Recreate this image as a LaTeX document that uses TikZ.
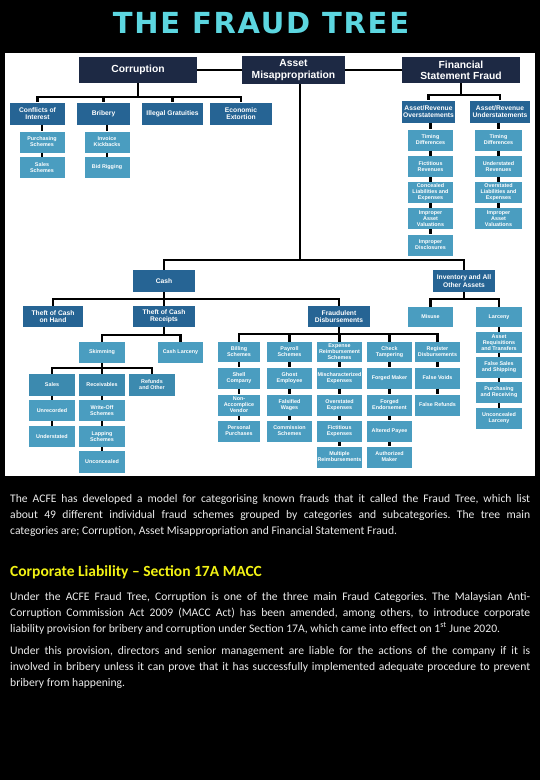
\documentclass[tikz,border=0pt]{standalone}
\usepackage{fontspec}
\setmainfont{Carlito}
\newfontfamily\treefont{Liberation Sans}
\newfontfamily\titlefont[LetterSpace=6]{DejaVu Sans}
\definecolor{ftnavy}{RGB}{29,41,68}
\definecolor{ftblue}{RGB}{38,100,148}
\definecolor{ftsea}{RGB}{60,138,175}
\definecolor{ftteal}{RGB}{74,157,192}
\definecolor{ftsky}{RGB}{92,214,224}
\definecolor{ftyellow}{RGB}{242,242,20}
\definecolor{fttext}{RGB}{236,236,236}
\usepackage{tikz}
\usetikzlibrary{positioning}
\frenchspacing

\begin{document}
\begin{tikzpicture}[x=1pt, y=-1pt,
  topbox/.style={fill=ftnavy, text=white, align=center, inner sep=1pt,
    minimum width=118pt, minimum height=26pt,
    font=\treefont\bfseries\fontsize{10.3}{11.2}\selectfont},
  midbox/.style={fill=ftblue, text=white, align=center, inner sep=1pt,
    minimum height=22pt, font=\treefont\bfseries\fontsize{6.7}{7.3}\selectfont},
  leafbox/.style={fill=ftteal, text=white, align=center, inner sep=0.6pt,
    minimum width=45pt, minimum height=21pt,
    font=\treefont\bfseries\fontsize{5.4}{6}\selectfont},
  link/.style={draw=black, line width=2.2pt},
  bodytext/.style={anchor=north west, inner sep=0pt, text width=520pt,
    align=justify, text=fttext, font=\fontsize{11.6}{16}\selectfont}]

\fill[black] (0,0) rectangle (540,780);
\useasboundingbox (0,0) rectangle (540,780);
\fill[white] (5,53) rectangle (535,476);

\node[text=ftsky, font=\titlefont\bfseries\fontsize{29}{31}\selectfont] (title) at (261,23) {THE FRAUD TREE};

\node[topbox] (corr) at (138,70) {Corruption};
\node[topbox, minimum width=103pt, minimum height=28pt] (asset) at (293.5,70) {Asset\\Misappropriation};
\node[topbox] (fsf) at (461,70) {Financial\\Statement Fraud};

\node[midbox, minimum width=55pt] (coi) at (37.5,113.5) {Conflicts of\\Interest};
\node[midbox, minimum width=53pt] (bribery) at (103.5,113.5) {Bribery};
\node[midbox, minimum width=61pt] (illegal) at (172.5,113.5) {Illegal Gratuities};
\node[midbox, minimum width=62pt] (extort) at (241,113.5) {Economic\\Extortion};

\node[leafbox] (purch) at (42,142) {Purchasing\\Schemes};
\node[leafbox] (salesch) at (42,167.5) {Sales\\Schemes};
\node[leafbox] (kick) at (107,142) {Invoice\\Kickbacks};
\node[leafbox] (bid) at (107,167.5) {Bid Rigging};

\node[midbox, minimum width=53pt] (over) at (428.5,111.5) {Asset/Revenue\\Overstatements};
\node[midbox, minimum width=60pt] (under) at (500,111.5) {Asset/Revenue\\Understatements};

\node[leafbox] (ot1) at (430.5,140) {Timing\\Differences};
\node[leafbox] (ot2) at (430.5,166.5) {Fictitious\\Revenues};
\node[leafbox] (ot3) at (430.5,192.5) {Concealed\\Liabilities and\\Expenses};
\node[leafbox] (ot4) at (430.5,218.5) {Improper\\Asset\\Valuations};
\node[leafbox] (ot5) at (430.5,245) {Improper\\Disclosures};
\node[leafbox, minimum width=47pt] (ut1) at (498.5,140) {Timing\\Differences};
\node[leafbox, minimum width=47pt] (ut2) at (498.5,166.5) {Understated\\Revenues};
\node[leafbox, minimum width=47pt] (ut3) at (498.5,192.5) {Overstated\\Liabilities and\\Expenses};
\node[leafbox, minimum width=47pt] (ut4) at (498.5,218.5) {Improper\\Asset\\Valuations};

\node[midbox, minimum width=62pt] (cash) at (164,281) {Cash};
\node[midbox, minimum width=62pt] (inv) at (464,281) {Inventory and All\\Other Assets};

\node[midbox, minimum width=60pt, minimum height=21pt] (tcoh) at (53,316.5) {Theft of Cash\\on Hand};
\node[midbox, minimum width=62pt, minimum height=21pt] (tcr) at (164,316.5) {Theft of Cash\\Receipts};
\node[midbox, minimum width=62pt, minimum height=21pt] (fd) at (339,316.5) {Fraudulent\\Disbursements};

\node[leafbox, minimum height=20pt] (misuse) at (430.5,317) {Misuse};
\node[leafbox, minimum width=46pt, minimum height=20pt] (larceny) at (499,317) {Larceny};
\node[leafbox, minimum width=46pt] (lar1) at (499,342.5) {Asset\\Requisitions\\and Transfers};
\node[leafbox, minimum width=46pt] (lar2) at (499,367.5) {False Sales\\and Shipping};
\node[leafbox, minimum width=46pt] (lar3) at (499,392.5) {Purchasing\\and Receiving};
\node[leafbox, minimum width=46pt] (lar4) at (499,418.5) {Unconcealed\\Larceny};

\node[leafbox, minimum width=46pt] (skim) at (102,352.5) {Skimming};
\node[leafbox] (cashlar) at (180.5,352.5) {Cash Larceny};

\node[leafbox, fill=ftsea, minimum width=46pt, minimum height=22pt] (sales) at (52,385) {Sales};
\node[leafbox, fill=ftsea, minimum width=46pt, minimum height=22pt] (recv) at (102,385) {Receivables};
\node[leafbox, fill=ftsea, minimum width=46pt, minimum height=22pt] (refund) at (152,385) {Refunds\\and Other};
\node[leafbox, minimum width=46pt] (unrec) at (52,410.5) {Unrecorded};
\node[leafbox, minimum width=46pt] (underst) at (52,436.5) {Understated};
\node[leafbox, minimum width=46pt] (wo) at (102,410.5) {Write-Off\\Schemes};
\node[leafbox, minimum width=46pt] (lap) at (102,436.5) {Lapping\\Schemes};
\node[leafbox, minimum width=46pt, minimum height=22pt] (uncon) at (102,462) {Unconcealed};

\node[leafbox, minimum width=42pt, minimum height=20pt] (bill) at (239,352) {Billing\\Schemes};
\node[leafbox, minimum height=20pt] (pay) at (289.5,352) {Payroll\\Schemes};
\node[leafbox, minimum height=20pt] (exp) at (339.5,352) {Expense\\Reimbursement\\Schemes};
\node[leafbox, minimum height=20pt] (chk) at (389.5,352) {Check\\Tampering};
\node[leafbox, minimum height=20pt] (reg) at (437.5,352) {Register\\Disbursements};

\node[leafbox, minimum width=42pt] (b1) at (239,378) {Shell\\Company};
\node[leafbox, minimum width=42pt] (b2) at (239,405) {Non-\\Accomplice\\Vendor};
\node[leafbox, minimum width=42pt] (b3) at (239,431) {Personal\\Purchases};
\node[leafbox] (p1) at (289.5,378) {Ghost\\Employee};
\node[leafbox] (p2) at (289.5,405) {Falsified\\Wages};
\node[leafbox] (p3) at (289.5,431) {Commission\\Schemes};
\node[leafbox] (e1) at (339.5,378) {Mischaracterized\\Expenses};
\node[leafbox] (e2) at (339.5,405) {Overstated\\Expenses};
\node[leafbox] (e3) at (339.5,431) {Fictitious\\Expenses};
\node[leafbox] (e4) at (339.5,457) {Multiple\\Reimbursements};
\node[leafbox] (c1) at (389.5,378) {Forged Maker};
\node[leafbox] (c2) at (389.5,405) {Forged\\Endorsement};
\node[leafbox] (c3) at (389.5,431) {Altered Payee};
\node[leafbox] (c4) at (389.5,457) {Authorized\\Maker};
\node[leafbox] (r1) at (437.5,378) {False Voids};
\node[leafbox] (r2) at (437.5,405) {False Refunds};

\draw[link] (corr.east) -- (asset.west);
\draw[link] (asset.east) -- (fsf.west);
\foreach \c in {coi,bribery,illegal,extort}
  \draw[link] (corr.south) -- ++(0,14) -| (\c.north);
\foreach \c in {over,under}
  \draw[link] (fsf.south) -- ++(0,12) -| (\c.north);
\foreach \c in {cash,inv}
  \draw[link] (asset.south) ++(6.5,0) -- ++(0,176) -| (\c.north);
\foreach \c in {tcoh,tcr,fd}
  \draw[link] (cash.south) -- ++(0,7) -| (\c.north);
\foreach \c in {misuse,larceny}
  \draw[link] (inv.south) -- ++(0,7) -| (\c.north);
\foreach \c in {skim,cashlar}
  \draw[link] (tcr.south) -- ++(0,8) -| (\c.north);
\foreach \c in {sales,recv,refund}
  \draw[link] (skim.south) -- ++(0,5) -| (\c.north);
\foreach \c in {bill,pay,exp,chk,reg}
  \draw[link] (fd.south) -- ++(0,7) -| (\c.north);

\foreach \a/\b in {coi/purch,purch/salesch,bribery/kick,kick/bid,
    over/ot1,ot1/ot2,ot2/ot3,ot3/ot4,ot4/ot5,under/ut1,ut1/ut2,ut2/ut3,ut3/ut4,
    larceny/lar1,lar1/lar2,lar2/lar3,lar3/lar4,
    sales/unrec,unrec/underst,recv/wo,wo/lap,lap/uncon,
    bill/b1,b1/b2,b2/b3,pay/p1,p1/p2,p2/p3,exp/e1,e1/e2,e2/e3,e3/e4,
    chk/c1,c1/c2,c2/c3,c3/c4,reg/r1,r1/r2}
  \draw[link] (\b.north |- \a.south) -- (\b.north);

\node[bodytext] (intro) at (10,494) {The ACFE has developed a model for categorising known frauds that it called the Fraud Tree, which list\linebreak
  about 49 different individual fraud schemes grouped by categories and subcategories. The tree main\linebreak
  categories are; Corruption, Asset Misappropriation and Financial Statement Fraud.};

\node[anchor=base west, inner sep=0pt, text=ftyellow, font=\bfseries\fontsize{15.5}{17}\selectfont] (head) at (10,576) {Corporate Liability -- Section 17A MACC};

\node[bodytext] (para1) at (10,592) {Under the ACFE Fraud Tree, Corruption is one of the three main Fraud Categories. The Malaysian Anti-\linebreak
  Corruption Commission Act 2009 (MACC Act) has been amended, among others, to introduce corporate\linebreak
  liability provision for bribery and corruption under Section 17A, which came into effect on 1\textsuperscript{st} June 2020.};

\node[bodytext] (para2) at (10,646) {Under this provision, directors and senior management are liable for the actions of the company if it is\linebreak
  involved in bribery unless it can prove that it has successfully implemented adequate procedure to prevent\linebreak
  bribery from happening.};

\end{tikzpicture}
\end{document}
